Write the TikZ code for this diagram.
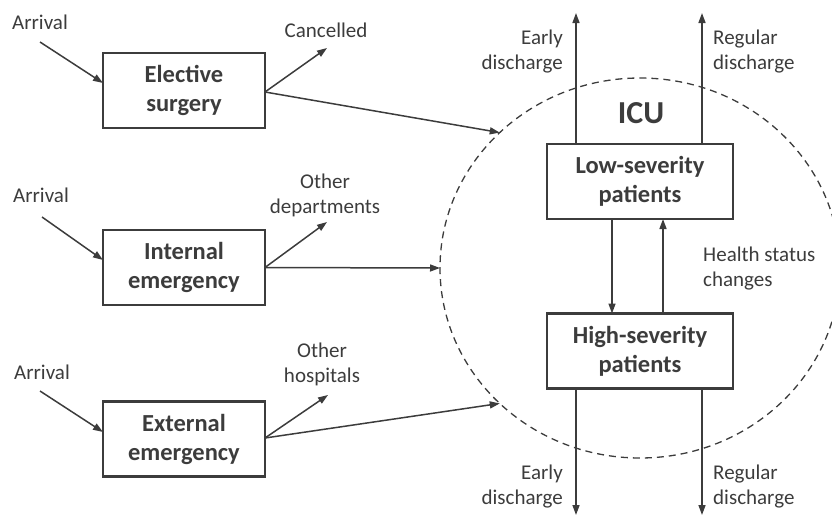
\documentclass[tikz,border=0pt]{standalone}
\usepackage{fontspec}
\setmainfont{Carlito}
\usetikzlibrary{arrows.meta,calc,shapes.geometric}
\definecolor{ink}{HTML}{3c3c3c}
\begin{document}
\begin{tikzpicture}[x=1pt,y=-1pt,
  box/.style={draw=ink, line width=2.8pt, minimum width=162pt, minimum height=75pt, inner sep=0pt, outer sep=0pt, align=center, text=ink, font=\bfseries\fontsize{24.5}{29}\selectfont},
  lbl/.style={text=ink, inner sep=0pt, align=center, font=\fontsize{21}{25}\selectfont},
  arr/.style={draw=ink, line width=1.5pt, -{Triangle[length=10pt,width=7pt]}}]
\useasboundingbox (0,0) rectangle (832,517);
% ICU region
\node[draw=ink, dash pattern=on 7pt off 5pt, line width=1.3pt, ellipse, minimum width=400pt, minimum height=380pt, inner sep=0pt, outer sep=0pt] (icu) at (640,268) {};
\node[text=ink, inner sep=0pt, font=\bfseries\fontsize{32}{36}\selectfont] (icul) at (641,113) {ICU};
% boxes
\node[box] (es) at (184,90.5) {Elective\\surgery};
\node[box] (ie) at (184,267.5) {Internal\\emergency};
\node[box] (ee) at (184,439) {External\\emergency};
\node[box, minimum width=186pt] (low) at (640,181.5) {Low-severity\\patients};
\node[box, minimum width=186pt] (high) at (640,351) {High-severity\\patients};
% labels
\node[lbl] (a1) at (40,22) {Arrival};
\node[lbl] (a2) at (41,195) {Arrival};
\node[lbl] (a3) at (42,372) {Arrival};
\node[lbl] (can) at (326,30) {Cancelled};
\node[lbl] (od) at (325,195) {Other\\departments};
\node[lbl] (oh) at (322,364) {Other\\hospitals};
\node[lbl, anchor=east, align=right] (ed1) at (563,52) {Early\\discharge};
\node[lbl, anchor=west, align=left] (rd1) at (713,52) {Regular\\discharge};
\node[lbl, anchor=east, align=right] (ed2) at (563,487) {Early\\discharge};
\node[lbl, anchor=west, align=left] (rd2) at (713,487) {Regular\\discharge};
\node[lbl, anchor=west, align=left] (hs) at (703,269) {Health status\\changes};
% free ends
\coordinate (s1) at (40,42);
\coordinate (s2) at (42,217);
\coordinate (s3) at (40,391);
\coordinate (cant) at (327,48);
\coordinate (odt) at (327,222);
\coordinate (oht) at (328,395);
\coordinate (ut1) at (576,13);
\coordinate (ut2) at (702,13);
\coordinate (bt1) at (576,515);
\coordinate (bt2) at (702,515);
\coordinate (m1) at (612,0);
\coordinate (m2) at (663,0);
% arrivals
\draw[arr] (s1) -- ($(es.west)+(0,-7.5)$);
\draw[arr] (s2) -- ($(ie.west)+(0,-7.5)$);
\draw[arr] (s3) -- ($(ee.west)+(0,-7)$);
% exits
\draw[arr] ($(es.east)+(0,1.5)$) -- (cant);
\draw[arr] (ie.east) -- (odt);
\draw[arr] ($(ee.east)+(0,-1)$) -- (oht);
% to ICU
\draw[arr] ($(es.east)+(0,1.5)$) -- (icu.136);
\draw[arr] (ie.east) -- (icu.180);
\draw[arr] ($(ee.east)+(0,-1)$) -- (icu.224);
% discharges
\draw[arr] (low.north -| ut1) -- (ut1);
\draw[arr] (low.north -| ut2) -- (ut2);
\draw[arr] (high.south -| bt1) -- (bt1);
\draw[arr] (high.south -| bt2) -- (bt2);
% health status changes
\draw[arr] (low.south -| m1) -- (high.north -| m1);
\draw[arr] (high.north -| m2) -- (low.south -| m2);
\end{tikzpicture}
\end{document}
